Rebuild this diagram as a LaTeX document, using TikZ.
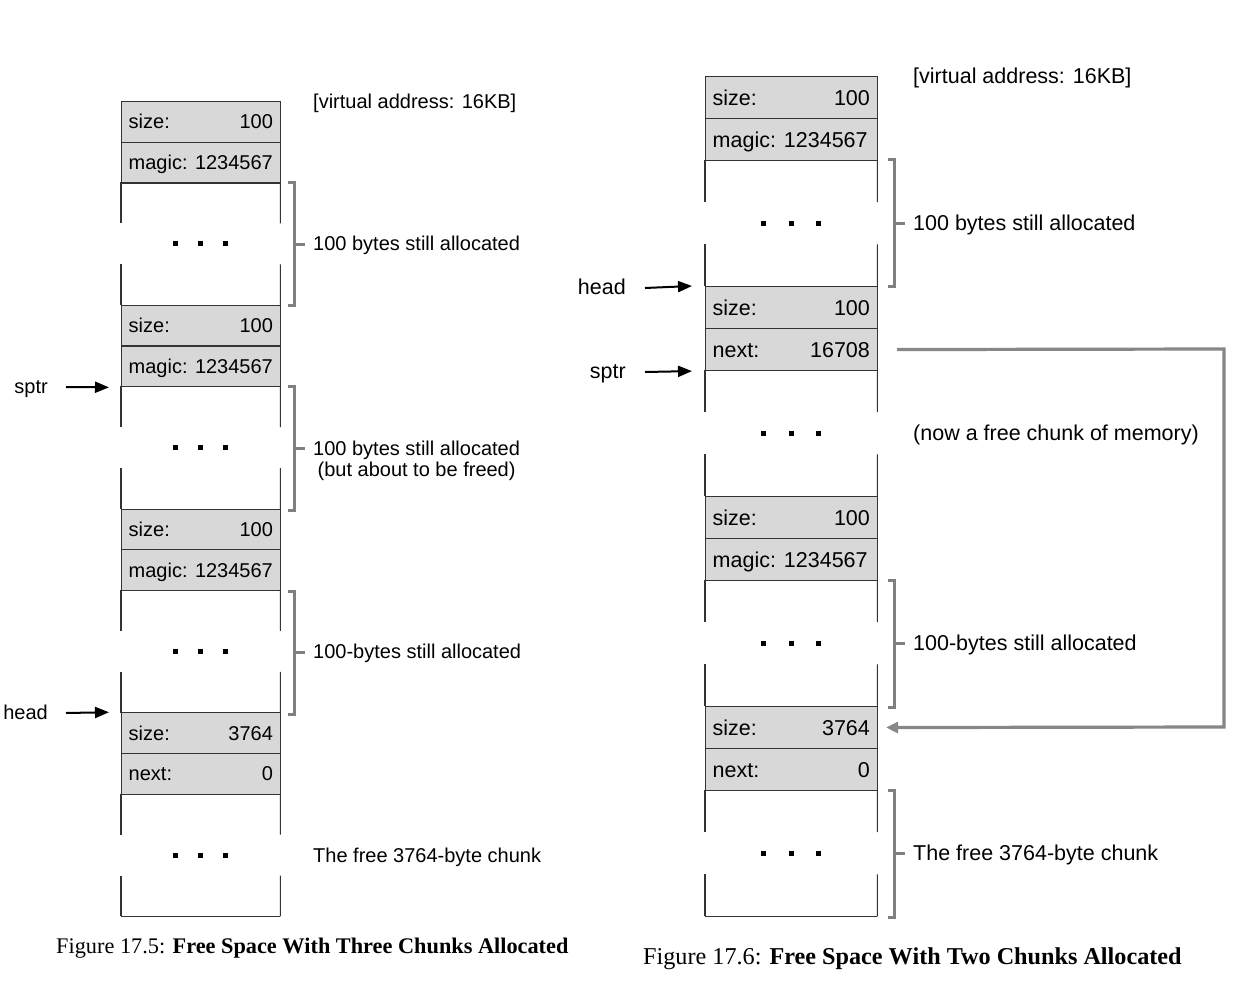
\documentclass[tikz,border=0pt]{standalone}
\usepackage{fontspec}
\newfontfamily\arialf{Liberation Sans}
\newfontfamily\serf{Liberation Serif}
\usetikzlibrary{arrows.meta,calc}
\definecolor{cellgray}{RGB}{216,216,216}
\definecolor{brgray}{RGB}{128,128,128}
\definecolor{linkgray}{RGB}{135,135,135}
\tikzset{
  cellbox/.style={draw=black!80, line width=1.1pt, fill=cellgray, inner sep=0pt, anchor=north west},
  datab/.style={inner sep=0pt, anchor=north west},
  cellline/.style={draw=black!80, line width=1.1pt},
  ltext/.style={font=\arialf\fontsize{20}{24}\selectfont, inner sep=0pt, text height=14pt, text depth=0pt},
  rtext/.style={font=\arialf\fontsize{21.5}{26}\selectfont, inner sep=0pt, text height=15pt, text depth=0pt},
  dotsq/.style={fill=black, inner sep=0pt, minimum size=5pt},
  brack/.style={draw=brgray, line width=3pt},
  ptr/.style={draw=black, line width=2pt, -{Triangle[length=14pt,width=11pt]}},
  link/.style={draw=linkgray, line width=3.2pt, -{Triangle[length=12pt,width=11pt]}},
  capt/.style={font=\serf\fontsize{22.3}{26}\selectfont, inner sep=0pt, anchor=base west},
}
% cell row: name, x, ytop, w, h, style, left text, right text
\newcommand\memrow[8]{%
  \node[cellbox, minimum width=#4pt, minimum height=#5pt] (#1) at (#2,#3) {};
  \node[#6, anchor=west] (#1-l) at ([xshift=7.5pt]#1.west) {#7};
  \node[#6, anchor=east] (#1-r) at ([xshift=-8pt]#1.east) {#8};
}
\newcommand\memrowone[7]{%
  \node[cellbox, minimum width=#4pt, minimum height=#5pt] (#1) at (#2,#3) {};
  \node[#6, anchor=west] (#1-l) at ([xshift=7.5pt]#1.west) {#7};
}
% data region: name, x, ytop, w, h, dot spacing
\newcommand\datareg[6]{%
  \node[datab, minimum width=#4pt, minimum height=#5pt] (#1) at (#2,#3) {};
  \draw[cellline] (#1.north west) -- ($(#1.north west)!0.333!(#1.south west)$);
  \draw[cellline] (#1.north east) -- ($(#1.north east)!0.333!(#1.south east)$);
  \draw[cellline] (#1.south west) -- ($(#1.south west)!0.333!(#1.north west)$);
  \draw[cellline] (#1.south east) -- ($(#1.south east)!0.333!(#1.north east)$);
  \node[dotsq] (#1-a) at ([xshift=-#6pt]#1.center) {};
  \node[dotsq] (#1-b) at (#1.center) {};
  \node[dotsq] (#1-c) at ([xshift=#6pt]#1.center) {};
}
% bracket: name, x, ytop, ybottom
\newcommand\membrack[4]{%
  \coordinate (#1-t) at (#2,#3);
  \coordinate (#1-b) at (#2,#4);
  \coordinate (#1-m) at ($(#1-t)!0.5!(#1-b)$);
  \draw[brack] ([xshift=-6pt]#1-t) -- (#1-t) -- (#1-b) -- ([xshift=-6pt]#1-b);
  \draw[brack] (#1-m) -- ([xshift=11pt]#1-m);
}
\begin{document}
\begin{tikzpicture}[x=1pt,y=-1pt]
\useasboundingbox[fill=white] (0,0) rectangle (1235,1000);

% ---------------- left figure ----------------
\memrow{L1s}{121}{101}{159}{40.75}{ltext}{size:}{100}
\memrowone{L1m}{121}{141.75}{159}{40.75}{ltext}{magic: 1234567}
\datareg{L1d}{121}{182.5}{159}{122.25}{25}
\memrow{L2s}{121}{304.75}{159}{40.75}{ltext}{size:}{100}
\memrowone{L2m}{121}{345.5}{159}{40.75}{ltext}{magic: 1234567}
\datareg{L2d}{121}{386.25}{159}{122.25}{25}
\memrow{L3s}{121}{508.5}{159}{40.75}{ltext}{size:}{100}
\memrowone{L3m}{121}{549.25}{159}{40.75}{ltext}{magic: 1234567}
\datareg{L3d}{121}{590}{159}{122.25}{25}
\memrow{L4s}{121}{712.25}{159}{40.75}{ltext}{size:}{3764}
\memrow{L4n}{121}{753}{159}{40.75}{ltext}{next:}{0}
\datareg{L4d}{121}{793.75}{159}{122.25}{25}
\draw[cellline] (L4d.south west) -- (L4d.south east);

\membrack{LB1}{294}{183}{306}
\membrack{LB2}{294}{387}{510}
\membrack{LB3}{294}{591}{714}

\node[ltext, anchor=west] (Lva) at (313,102) {[virtual address: 16KB]};
\node[ltext, anchor=west] (Lt1) at (313,244) {100 bytes still allocated};
\node[ltext, align=center, anchor=north west, text height=14pt, text depth=4pt] (Lt2) at (313,462) {100 bytes still allocated\\[-3pt](but about to be freed)};
\node[ltext, anchor=west] (Lt3) at (313,651) {100-bytes still allocated};
\node[ltext, anchor=west] (Lt4) at (313,855) {The free 3764-byte chunk};

\node[ltext, anchor=east] (Lsptr) at (48,387) {sptr};
\node[ltext, anchor=east] (Lhead) at (48,712) {head};
\draw[ptr] ([xshift=18pt]Lsptr.east) -- ([xshift=-12pt]L2m.south west);
\draw[ptr] ([xshift=18pt,yshift=-1pt]Lhead.east) -- ([xshift=-12pt]L4s.north west);

\node[capt] (Lcap) at (56,953) {Figure 17.5: \textbf{Free Space With Three Chunks Allocated}};

% ---------------- right figure ----------------
\memrow{R1s}{705}{76}{172}{42}{rtext}{size:}{100}
\memrowone{R1m}{705}{118}{172}{42}{rtext}{magic: 1234567}
\datareg{R1d}{705}{160}{172}{126}{27.5}
\memrow{R2s}{705}{286}{172}{42}{rtext}{size:}{100}
\memrow{R2n}{705}{328}{172}{42}{rtext}{next:}{16708}
\datareg{R2d}{705}{370}{172}{126}{27.5}
\memrow{R3s}{705}{496}{172}{42}{rtext}{size:}{100}
\memrowone{R3m}{705}{538}{172}{42}{rtext}{magic: 1234567}
\datareg{R3d}{705}{580}{172}{126}{27.5}
\memrow{R4s}{705}{706}{172}{42}{rtext}{size:}{3764}
\memrow{R4n}{705}{748}{172}{42}{rtext}{next:}{0}
\datareg{R4d}{705}{790}{172}{126}{27.5}
\draw[cellline] (R4d.south west) -- (R4d.south east);

\membrack{RB1}{894}{160}{287}
\membrack{RB2}{894}{580}{707}
\membrack{RB3}{894}{790}{917}

\node[rtext, anchor=west] (Rva) at (913,76) {[virtual address: 16KB]};
\node[rtext, anchor=west] (Rt1) at (913,223) {100 bytes still allocated};
\node[rtext, anchor=west] (Rt2) at (913,433) {(now a free chunk of memory)};
\node[rtext, anchor=west] (Rt3) at (913,643) {100-bytes still allocated};
\node[rtext, anchor=west] (Rt4) at (913,853) {The free 3764-byte chunk};

\node[rtext, anchor=east] (Rhead) at (626,287) {head};
\node[rtext, anchor=east] (Rsptr) at (626,371) {sptr};
\draw[ptr] ([xshift=19pt,yshift=-1pt]Rhead.east) -- ([xshift=-13pt]R2s.north west);
\draw[ptr] ([xshift=19pt,yshift=-1pt]Rsptr.east) -- ([xshift=-13pt]R2n.south west);

\coordinate (Rc1) at (1224,349);
\coordinate (Rc2) at (1224,727);
\draw[link] ([xshift=19pt]R2n.east) -- (Rc1) -- (Rc2) -- ([xshift=8pt]R4s.east);

\node[capt, font=\serf\fontsize{24.2}{28}\selectfont] (Rcap) at (643,964) {Figure 17.6: \textbf{Free Space With Two Chunks Allocated}};
\end{tikzpicture}
\end{document}
